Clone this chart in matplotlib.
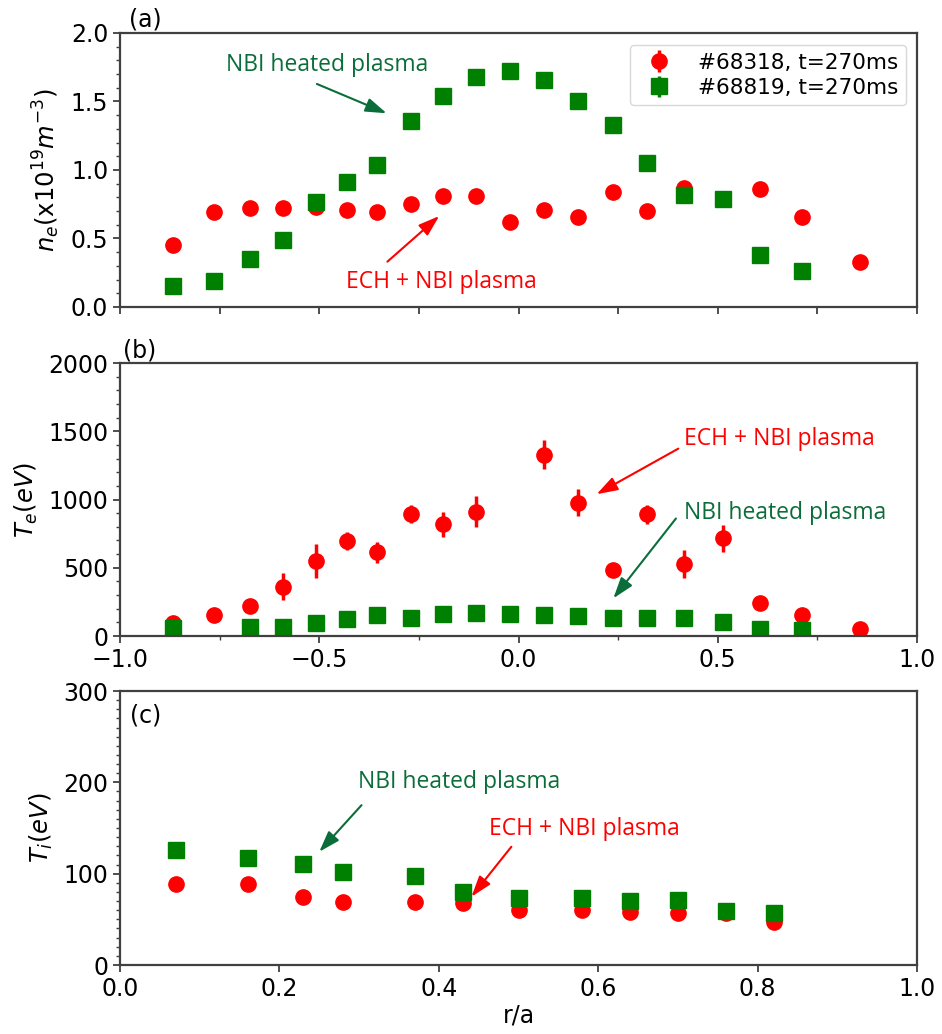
import matplotlib
matplotlib.use("Agg")
import matplotlib.pyplot as plt
from matplotlib.ticker import MultipleLocator

# ---------------- data ----------------
# panel (a): electron density
a_red_x = [-0.866, -0.764, -0.674, -0.590, -0.509, -0.430, -0.354, -0.271, -0.190, -0.107,
           -0.021, 0.064, 0.150, 0.236, 0.323, 0.414, 0.606, 0.711, 0.857]
a_red_y = [0.45, 0.69, 0.72, 0.72, 0.73, 0.71, 0.69, 0.75, 0.81, 0.81,
           0.62, 0.71, 0.66, 0.84, 0.70, 0.87, 0.86, 0.66, 0.33]
a_red_err = [0.02] * 19
a_grn_x = [-0.866, -0.764, -0.674, -0.590, -0.509, -0.430, -0.354, -0.271, -0.190, -0.107,
           -0.021, 0.064, 0.150, 0.236, 0.323, 0.414, 0.512, 0.606, 0.711]
a_grn_y = [0.15, 0.19, 0.35, 0.49, 0.77, 0.91, 1.04, 1.36, 1.54, 1.68,
           1.72, 1.66, 1.50, 1.33, 1.05, 0.82, 0.79, 0.38, 0.26]
a_grn_err = [0.02] * 19

# panel (b): electron temperature
b_red_x = [-0.866, -0.764, -0.674, -0.590, -0.509, -0.430, -0.354, -0.271, -0.190, -0.107,
           0.064, 0.150, 0.236, 0.323, 0.414, 0.512, 0.606, 0.711, 0.857]
b_red_y = [95, 154, 220, 361, 551, 697, 612, 893, 819, 912,
           1329, 976, 483, 893, 527, 715, 244, 156, 54]
b_red_err = [10, 10, 10, 100, 125, 65, 80, 65, 90, 115,
             105, 100, 15, 70, 105, 100, 10, 10, 10]
b_grn_x = [-0.866, -0.674, -0.590, -0.509, -0.430, -0.354, -0.271, -0.190, -0.107,
           -0.021, 0.064, 0.150, 0.236, 0.323, 0.414, 0.512, 0.606, 0.711]
b_grn_y = [56, 63, 63, 93, 124, 151, 129, 161, 172,
           161, 154, 146, 129, 129, 134, 105, 51, 44]
b_grn_err = [5] * 18

# panel (c): ion temperature
c_x = [0.07, 0.16, 0.23, 0.28, 0.37, 0.43, 0.50, 0.58, 0.64, 0.70, 0.76, 0.82]
c_red_y = [88.7, 88.7, 74.8, 69.3, 69.3, 68.2, 60.2, 60.2, 58.4, 56.6, 57.0, 47.4]
c_grn_y = [126, 117.5, 110.6, 101.5, 97.4, 79.6, 73, 73, 70.4, 71, 59.5, 57.3]

legend_labels = ["#68318, t=270ms", "#68819, t=270ms"]

# ---------------- style ----------------
RED = "#ff0000"
GRN = "#008000"
DKGRN = "#0b6e3a"
ANN_FONT = ["Open Sans", "DejaVu Sans"]
FS = 17
AFS = 16.5

plt.rcParams["font.family"] = ["DejaVu Sans"]
plt.rcParams["mathtext.fontset"] = "dejavusans"

fig = plt.figure(figsize=(9.42, 10.34), dpi=100)
axa = fig.add_axes([0.1274, 0.7031, 0.8461, 0.2650])
axb = fig.add_axes([0.1274, 0.3849, 0.8461, 0.2640])
axc = fig.add_axes([0.1274, 0.0667, 0.8461, 0.2650])

ms = 11
ekw = dict(elinewidth=2.5, capsize=0, linestyle="none")

def style(ax):
    for s in ax.spines.values():
        s.set_color("#404040")
        s.set_linewidth(1.6)
    ax.tick_params(axis="both", which="major", length=5, width=1.3, labelsize=FS,
                   color="#404040", direction="out")
    ax.tick_params(axis="both", which="minor", length=3, width=1.0, color="#404040",
                   direction="out")

def label(ax, txt, xy, color):
    ax.text(xy[0], xy[1], txt, ha="center", va="center", color=color,
            fontsize=AFS, family=ANN_FONT)

def arrow(ax, tail, head, color):
    ax.annotate("", xy=head, xytext=tail,
                arrowprops=dict(arrowstyle="-|>,head_length=0.75,head_width=0.25",
                                color=color, lw=1.5, mutation_scale=17,
                                shrinkA=0, shrinkB=0))

# (a)
axa.errorbar(a_red_x, a_red_y, yerr=a_red_err, fmt="o", color=RED, ms=ms,
             label=legend_labels[0], **ekw)
axa.errorbar(a_grn_x, a_grn_y, yerr=a_grn_err, fmt="s", color=GRN, ms=ms,
             label=legend_labels[1], **ekw)
axa.set_xlim(-1, 1)
axa.set_ylim(0, 2.0)
axa.xaxis.set_major_locator(MultipleLocator(0.25))
axa.tick_params(axis="x", labelbottom=False)
axa.yaxis.set_major_locator(MultipleLocator(0.5))
axa.yaxis.set_minor_locator(MultipleLocator(0.1))
axa.set_ylabel(r"$n_e(\mathrm{x10}^{19}m^{-3})$", fontsize=FS + 0.5, labelpad=6)
style(axa)
axa.legend(loc="upper right", fontsize=15.5, borderpad=0.35, labelspacing=0.25,
           framealpha=1, edgecolor="#d8d8d8", fancybox=True,
           bbox_to_anchor=(0.986, 0.956), borderaxespad=0)
label(axa, "NBI heated plasma", (-0.48, 1.766), DKGRN)
arrow(axa, (-0.506, 1.628), (-0.331, 1.414), DKGRN)
label(axa, "ECH + NBI plasma", (-0.194, 0.185), RED)
arrow(axa, (-0.329, 0.331), (-0.199, 0.664), RED)
fig.text(0.154, 0.9816, "(a)", fontsize=FS, ha="center", va="center")

# (b)
axb.errorbar(b_red_x, b_red_y, yerr=b_red_err, fmt="o", color=RED, ms=ms, **ekw)
axb.errorbar(b_grn_x, b_grn_y, yerr=b_grn_err, fmt="s", color=GRN, ms=ms, **ekw)
axb.set_xlim(-1, 1)
axb.set_ylim(0, 2000)
axb.xaxis.set_major_locator(MultipleLocator(0.5))
axb.xaxis.set_minor_locator(MultipleLocator(0.25))
axb.yaxis.set_major_locator(MultipleLocator(500))
axb.yaxis.set_minor_locator(MultipleLocator(100))
axb.set_ylabel(r"$T_e(eV)$", fontsize=FS + 0.5, labelpad=6)
style(axb)
label(axb, "ECH + NBI plasma", (0.654, 1447), RED)
arrow(axb, (0.401, 1373), (0.196, 1039), RED)
label(axb, "NBI heated plasma", (0.669, 902), DKGRN)
arrow(axb, (0.395, 861), (0.238, 276), DKGRN)
fig.text(0.1486, 0.6615, "(b)", fontsize=FS, ha="center", va="center")

# (c)
axc.errorbar(c_x, c_red_y, fmt="o", color=RED, ms=ms, linestyle="none")
axc.errorbar(c_x, c_grn_y, fmt="s", color=GRN, ms=ms, linestyle="none")
axc.set_xlim(0, 1)
axc.set_ylim(0, 300)
axc.xaxis.set_major_locator(MultipleLocator(0.2))
axc.yaxis.set_major_locator(MultipleLocator(100))
axc.yaxis.set_minor_locator(MultipleLocator(10))
axc.set_ylabel(r"$T_i(eV)$", fontsize=FS + 0.5, labelpad=6)
axc.set_xlabel("r/a", fontsize=FS, labelpad=2)
style(axc)
label(axc, "NBI heated plasma", (0.426, 200.7), DKGRN)
arrow(axc, (0.303, 175), (0.250, 124), DKGRN)
label(axc, "ECH + NBI plasma", (0.582, 148.6), RED)
arrow(axc, (0.491, 129.5), (0.441, 74.8), RED)
axc.text(0.012, 0.91, "(c)", transform=axc.transAxes, fontsize=FS, ha="left", va="center")

fig.savefig("out.png", dpi=100)
